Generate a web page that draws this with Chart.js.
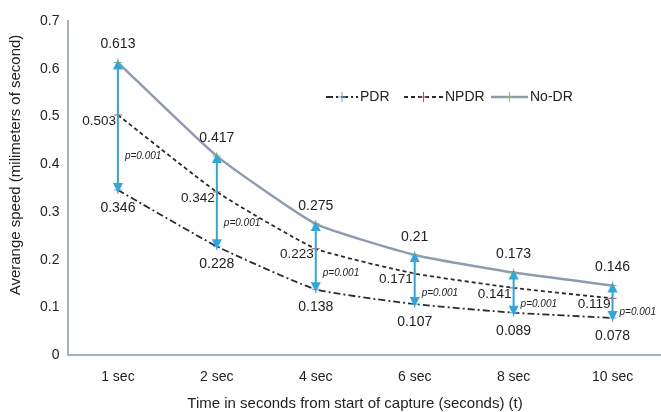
<!DOCTYPE html>
<html>
<head>
<meta charset="utf-8">
<script src="https://cdn.jsdelivr.net/npm/chart.js@4/dist/chart.umd.min.js"></script>
<style>
  html, body { margin: 0; padding: 0; background: #fff; overflow: hidden; }
  #clip { width: 661px; height: 412px; overflow: hidden; position: relative; }
  #wrap { width: 667px; height: 412px; position: relative; }
</style>
</head>
<body>
<div id="clip"><div id="wrap"><canvas id="speed-chart"></canvas></div></div>
<script>
// Dados do gráfico
const categories = ['1 sec', '2 sec', '4 sec', '6 sec', '8 sec', '10 sec'];
const pdrValues = [0.346, 0.228, 0.138, 0.107, 0.089, 0.078];
const npdrValues = [0.503, 0.342, 0.223, 0.171, 0.141, 0.119];
const noDrValues = [0.613, 0.417, 0.275, 0.21, 0.173, 0.146];
const pLabels = ['p=0.001', 'p=0.001', 'p=0.001', 'p=0.001', 'p=0.001', 'p=0.001'];
const yTickValues = [0, 0.1, 0.2, 0.3, 0.4, 0.5, 0.6, 0.7];

const FONT = '"Liberation Sans", Arial, sans-serif';
const ARROW = '#2ea7df';
const TEXT = '#222';

const legendItems = [
    { text: 'PDR', dash: [7, 3, 2, 3], marker: '#6a9fd4', x: 326, len: 32 },
    { text: 'NPDR', dash: [4, 3], marker: '#c0504d', x: 404, len: 39 },
    { text: 'No-DR', dash: [], marker: '#8fb86a', x: 491, len: 37, color: '#8f9bb0', width: 2.5 }
];

function drawArrowHead(ctx, x, y, dir) {
    ctx.beginPath();
    ctx.moveTo(x, y);
    ctx.lineTo(x - 5, y - dir * 10);
    ctx.lineTo(x + 5, y - dir * 10);
    ctx.closePath();
    ctx.fill();
}

const annotations = {
    id: 'annotations',
    afterDatasetsDraw(chart) {
        const ctx = chart.ctx;
        const xs = chart.scales.x, ys = chart.scales.y;
        ctx.save();
        // setas azuis
        ctx.strokeStyle = ARROW;
        ctx.fillStyle = ARROW;
        ctx.lineWidth = 2;
        categories.forEach((c, i) => {
            const x = xs.getPixelForValue(i);
            const top = ys.getPixelForValue(noDrValues[i]);
            const bot = ys.getPixelForValue(pdrValues[i]);
            ctx.beginPath();
            ctx.moveTo(x, top + 6);
            ctx.lineTo(x, bot - 6);
            ctx.stroke();
            drawArrowHead(ctx, x, top - 3, -1);
            drawArrowHead(ctx, x, bot + 3, 1);
        });
        ctx.restore();
    },
    afterDraw(chart) {
        const ctx = chart.ctx;
        const xs = chart.scales.x, ys = chart.scales.y;
        ctx.save();
        ctx.fillStyle = TEXT;
        ctx.textBaseline = 'middle';
        categories.forEach((c, i) => {
            const x = xs.getPixelForValue(i);
            // No-DR acima
            ctx.font = '14px ' + FONT;
            ctx.textAlign = 'center';
            ctx.fillText(String(noDrValues[i]), x, ys.getPixelForValue(noDrValues[i]) - 18);
            // PDR abaixo
            ctx.fillText(String(pdrValues[i]), x, ys.getPixelForValue(pdrValues[i]) + 18);
            // NPDR à esquerda
            ctx.font = '13.5px ' + FONT;
            ctx.textAlign = 'right';
            ctx.fillText(String(npdrValues[i]), x - 2, ys.getPixelForValue(npdrValues[i]) + 6);
            // p-valor
            const mid = (npdrValues[i] + pdrValues[i]) / 2;
            ctx.font = 'italic 10px ' + FONT;
            ctx.textAlign = 'left';
            ctx.fillText(pLabels[i], x + 7, ys.getPixelForValue(mid) + 4);
        });

        // legenda
        const ly = 97;
        legendItems.forEach(item => {
            ctx.strokeStyle = item.color || '#2b2b35';
            ctx.lineWidth = item.width || 1.8;
            ctx.setLineDash(item.dash);
            ctx.beginPath();
            ctx.moveTo(item.x, ly);
            ctx.lineTo(item.x + item.len, ly);
            ctx.stroke();
            ctx.setLineDash([]);
            ctx.strokeStyle = item.marker;
            ctx.lineWidth = 1;
            const mx = item.x + item.len / 2;
            ctx.beginPath();
            ctx.moveTo(mx, ly - 5);
            ctx.lineTo(mx, ly + 5);
            ctx.moveTo(mx - 4, ly);
            ctx.lineTo(mx + 4, ly);
            ctx.stroke();
            ctx.fillStyle = TEXT;
            ctx.font = '14px ' + FONT;
            ctx.textAlign = 'left';
            ctx.fillText(item.text, item.x + item.len + 2, ly);
        });

        // título do eixo X
        ctx.font = '15px ' + FONT;
        ctx.textAlign = 'center';
        ctx.fillText('Time in seconds from start of capture (seconds) (t)', 355, 404);

        // título do eixo Y
        ctx.translate(16, 165);
        ctx.rotate(-Math.PI / 2);
        ctx.fillText('Averange speed (milimeters of second)', 0, 0);
        ctx.restore();
    }
};

function createSpeedChart() {
    const ctx = document.getElementById('speed-chart').getContext('2d');
    return new Chart(ctx, {
        type: 'line',
        data: {
            labels: categories,
            datasets: [{
                label: 'PDR',
                data: pdrValues,
                borderColor: '#2b2b35',
                borderWidth: 1.8,
                borderDash: [7, 3, 2, 3],
                pointStyle: 'cross',
                pointRadius: 4,
                pointBorderColor: '#6a9fd4',
                pointBorderWidth: 1,
                tension: 0.15,
                fill: false
            }, {
                label: 'NPDR',
                data: npdrValues,
                borderColor: '#2b2b35',
                borderWidth: 1.8,
                borderDash: [4, 3],
                pointStyle: 'cross',
                pointRadius: 4,
                pointBorderColor: '#c0504d',
                pointBorderWidth: 1,
                tension: 0.15,
                fill: false
            }, {
                label: 'No-DR',
                data: noDrValues,
                borderColor: '#8f9bb0',
                borderWidth: 2.5,
                pointStyle: 'cross',
                pointRadius: 4,
                pointBorderColor: '#8fb86a',
                pointBorderWidth: 1,
                tension: 0.15,
                fill: false
            }]
        },
        options: {
            responsive: true,
            maintainAspectRatio: false,
            animation: false,
            layout: { padding: { left: 31, top: 21, right: 0, bottom: 12 } },
            scales: {
                x: {
                    offset: true,
                    grid: { display: false, drawTicks: false },
                    border: { display: true, color: '#a7b0bd', width: 2 },
                    ticks: { color: TEXT, font: { size: 14, family: FONT }, padding: 14 }
                },
                y: {
                    min: 0,
                    max: 0.7,
                    afterBuildTicks: scale => {
                        scale.ticks = yTickValues.map(v => ({ value: v }));
                    },
                    grid: { display: false, drawTicks: false },
                    border: { display: true, color: '#a7b0bd', width: 2 },
                    ticks: { color: TEXT, font: { size: 14, family: FONT }, padding: 9 }
                }
            },
            plugins: {
                legend: { display: false },
                tooltip: { enabled: false }
            }
        },
        plugins: [annotations]
    });
}

createSpeedChart();
</script>
</body>
</html>
